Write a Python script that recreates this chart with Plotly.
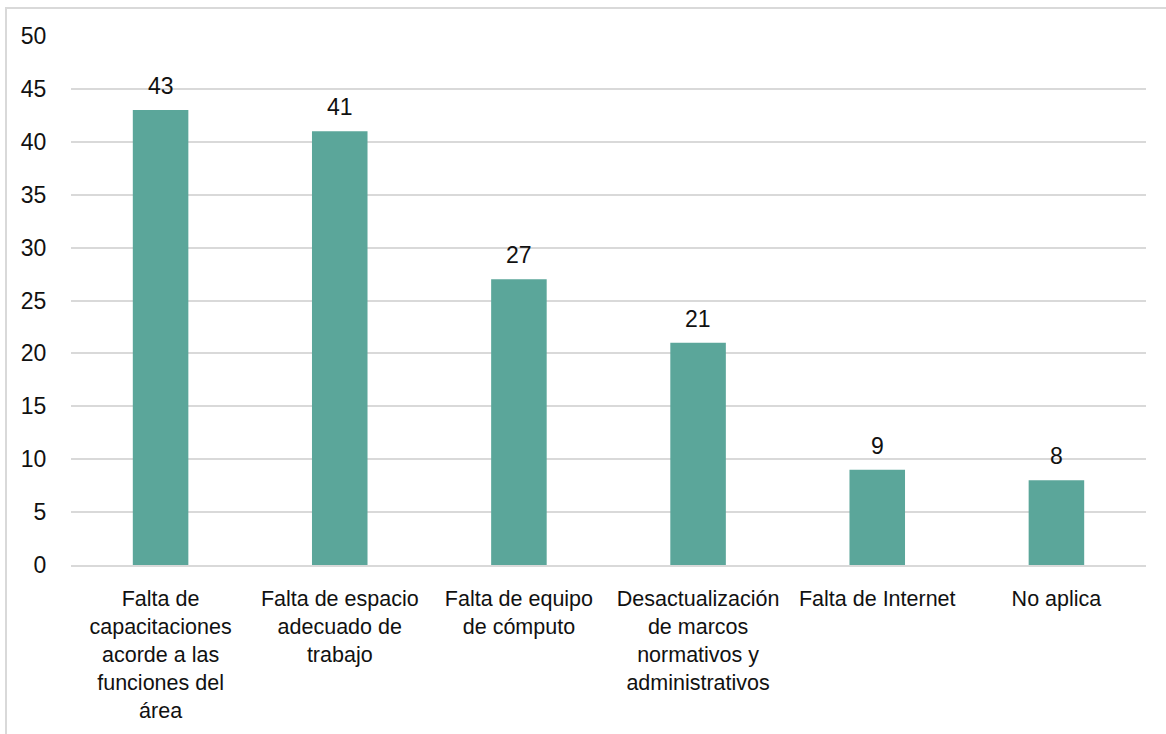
import plotly.graph_objects as go

# Categories (with manual line breaks) and counts
categories = [
    "Falta de<br>capacitaciones<br>acorde a las<br>funciones del<br>área",
    "Falta de espacio<br>adecuado de<br>trabajo",
    "Falta de equipo<br>de cómputo",
    "Desactualización<br>de marcos<br>normativos y<br>administrativos",
    "Falta de Internet",
    "No aplica",
]
values = [43, 41, 27, 21, 9, 8]
y_ticks = [0, 5, 10, 15, 20, 25, 30, 35, 40, 45, 50]

BAR_COLOR = "#5BA69A"
GRID_COLOR = "#D9D9D9"
TEXT_COLOR = "#111111"
FONT = "Liberation Sans, Arial, sans-serif"

fig = go.Figure(
    go.Bar(
        x=categories,
        y=values,
        marker=dict(color=BAR_COLOR, line=dict(width=0)),
        hoverinfo="skip",
    )
)

# Value labels above each bar
for cat, val in zip(categories, values):
    fig.add_annotation(
        x=cat, y=val, text=str(val),
        showarrow=False, yanchor="middle", yshift=24,
        font=dict(family=FONT, size=23, color=TEXT_COLOR),
    )

W, H = 1166, 734
ml, mr, mt, mb = 71, 20, 36, 169
pw, ph = W - ml - mr, H - mt - mb

# Outer chart frame (left and top edges visible)
fig.add_shape(
    type="rect",
    xref="paper", yref="paper",
    x0=(6 - ml) / pw, x1=1.2,
    y0=-0.5, y1=1 + (mt - 8) / ph,
    line=dict(color=GRID_COLOR, width=2),
    fillcolor="rgba(0,0,0,0)",
    layer="below",
)

fig.update_layout(
    width=W,
    height=H,
    margin=dict(l=ml, r=mr, t=mt, b=mb),
    paper_bgcolor="white",
    plot_bgcolor="white",
    bargap=0.69,
    showlegend=False,
    font=dict(family=FONT, size=22, color=TEXT_COLOR),
    xaxis=dict(
        showgrid=False,
        showline=True,
        linecolor=GRID_COLOR,
        linewidth=2,
        ticks="outside",
        ticklen=13,
        tickcolor="rgba(0,0,0,0)",
        tickfont=dict(family=FONT, size=21.5, color=TEXT_COLOR),
        tickangle=0,
    ),
    yaxis=dict(
        range=[0, 50],
        tickvals=y_ticks,
        showgrid=True,
        gridcolor=GRID_COLOR,
        gridwidth=2,
        zeroline=False,
        showline=False,
        ticks="outside",
        ticklen=19,
        tickcolor="rgba(0,0,0,0)",
        tickfont=dict(family=FONT, size=23, color=TEXT_COLOR),
    ),
)

fig.write_html("out.html")
